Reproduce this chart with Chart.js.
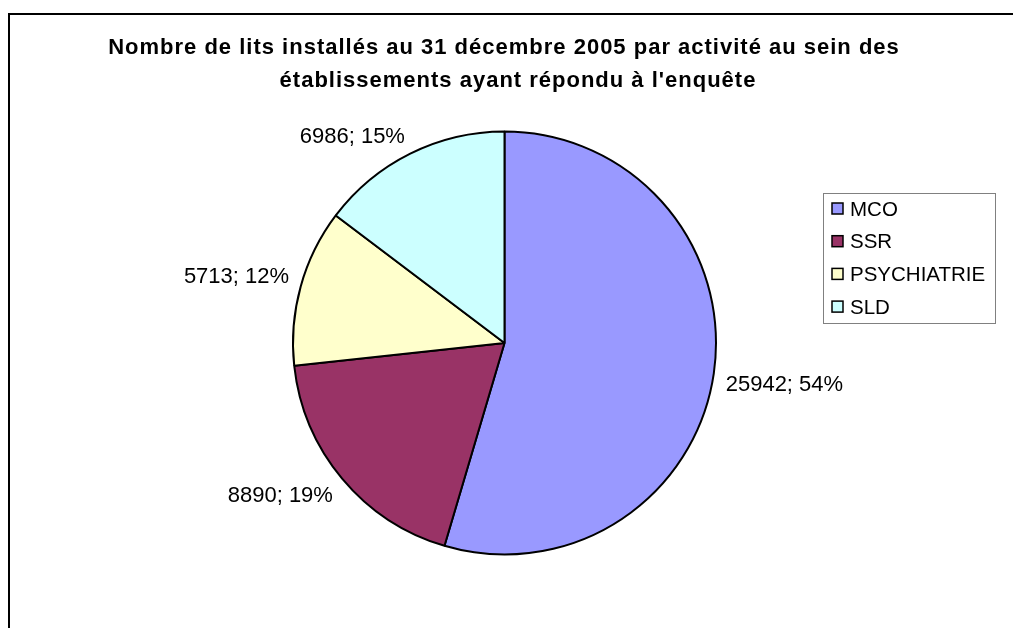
<!DOCTYPE html>
<html>
<head>
<meta charset="utf-8">
<script src="https://cdn.jsdelivr.net/npm/chart.js@4.4.0/dist/chart.umd.min.js"></script>
<style>
  body { margin: 0; background: #fff; }
  .wrap { position: relative; width: 1013px; height: 628px; overflow: hidden; }
  .frame { position: absolute; left: 8px; top: 13px; width: 1100px; height: 700px;
           border-left: 2px solid #000; border-top: 2px solid #000; }
  canvas { position: absolute; left: 0; top: 0; }
</style>
</head>
<body>
<div class="wrap">
  <div class="frame"></div>
  <canvas id="pie" width="1013" height="628"></canvas>
</div>
<script>
// data
const categories = ["MCO", "SSR", "PSYCHIATRIE", "SLD"];
const beds = [25942, 8890, 5713, 6986];
const percents = [54, 19, 12, 15];
const colors = ["#9999FF", "#993366", "#FFFFCC", "#CCFFFF"];
const titleLines = [
  "Nombre de lits installés au 31 décembre 2005 par activité au sein des",
  "établissements ayant répondu à l'enquête"
];

const FONT = '"Liberation Sans", Arial, sans-serif';

// title, outside labels and legend box
const decorations = {
  id: 'decorations',
  afterDraw(chart) {
    const ctx = chart.ctx;
    ctx.save();

    // title
    ctx.fillStyle = '#000';
    ctx.font = 'bold 22px ' + FONT;
    ctx.letterSpacing = '1px';
    ctx.textAlign = 'center';
    ctx.textBaseline = 'alphabetic';
    ctx.fillText(titleLines[0], 504, 54);
    ctx.fillText(titleLines[1], 518, 87);
    ctx.letterSpacing = '0px';

    // slice labels: nearest corner of the text sits just outside the arc
    ctx.font = '22px ' + FONT;
    const capH = 16;
    const arcs = chart.getDatasetMeta(0).data;
    arcs.forEach((arc, i) => {
      const p = arc.getProps(['x', 'y', 'startAngle', 'endAngle', 'outerRadius'], true);
      const mid = (p.startAngle + p.endAngle) / 2;
      const dx = Math.cos(mid), dy = Math.sin(mid);
      const r = p.outerRadius + 12;
      const ax = p.x + dx * r, ay = p.y + dy * r;
      ctx.textAlign = dx >= 0 ? 'left' : 'right';
      const by = dy >= 0 ? ay + capH : ay;
      ctx.fillText(beds[i] + '; ' + percents[i] + '%', ax, by);
    });

    // legend
    const lx = 823, ly = 193, lw = 172, lh = 130;
    ctx.strokeStyle = '#808080';
    ctx.lineWidth = 1;
    ctx.strokeRect(lx + 0.5, ly + 0.5, lw, lh);
    ctx.font = '20.5px ' + FONT;
    ctx.textAlign = 'left';
    ctx.textBaseline = 'middle';
    categories.forEach((name, i) => {
      const y = 209 + i * 32.7;
      ctx.fillStyle = colors[i];
      ctx.fillRect(832, y - 6, 11, 11);
      ctx.strokeStyle = '#000';
      ctx.lineWidth = 1.5;
      ctx.strokeRect(832, y - 6, 11, 11);
      ctx.fillStyle = '#000';
      ctx.fillText(name, 850, y + 1);
    });

    ctx.restore();
  }
};

new Chart(document.getElementById('pie'), {
  type: 'pie',
  data: {
    labels: categories,
    datasets: [{
      data: beds,
      backgroundColor: colors,
      borderColor: '#000',
      borderWidth: 2
    }]
  },
  options: {
    responsive: false,
    animation: false,
    layout: { padding: { left: 200, right: 204, top: 130.5, bottom: 72.5 } },
    plugins: {
      legend: { display: false },
      title: { display: false },
      tooltip: { enabled: false }
    }
  },
  plugins: [decorations]
});
</script>
</body>
</html>
